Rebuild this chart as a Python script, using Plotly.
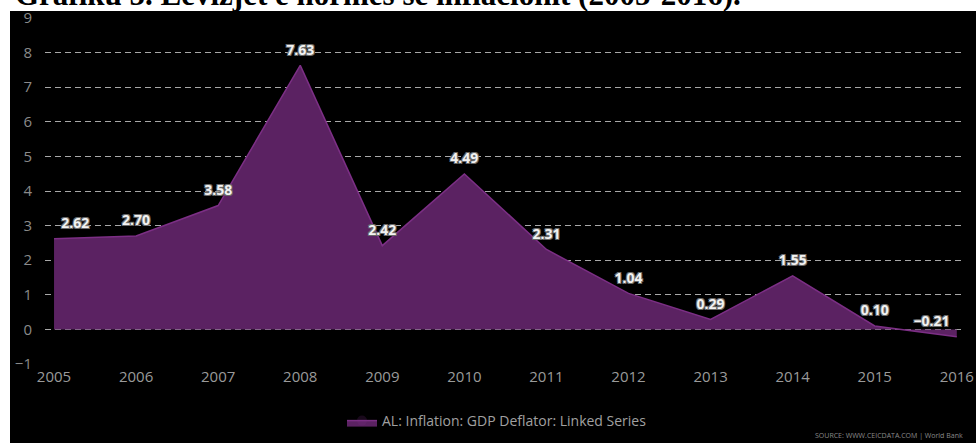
import plotly.graph_objects as go

years = [2005, 2006, 2007, 2008, 2009, 2010, 2011, 2012, 2013, 2014, 2015, 2016]
inflation = [2.62, 2.70, 3.58, 7.63, 2.42, 4.49, 2.31, 1.04, 0.29, 1.55, 0.10, -0.21]
labels = ["2.62", "2.70", "3.58", "7.63", "2.42", "4.49", "2.31", "1.04", "0.29", "1.55", "0.10", "\u22120.21"]
positions = ["top right", "top center", "top center", "top center", "top center", "top center",
             "top center", "top center", "top center", "top center", "top center", "top left"]
series_name = "AL: Inflation: GDP Deflator: Linked Series"
title_text = "Grafiku 5. Lëvizjet e normës së inflacionit (2005-2016)."
source_text = "SOURCE: WWW.CEICDATA.COM | World Bank"

W, H = 976, 443
L, R, T, B = 45, 11, 18, 79
pw, ph = W - L - R, H - T - B

def px_x(px):
    return (px - L) / pw

def px_y(py):
    return (H - B - py) / ph

outline = "#6a6a6a"
shadow = ("-1px -1px 0 %s, 1px -1px 0 %s, -1px 1px 0 %s, 1px 1px 0 %s" % (outline, outline, outline, outline))

fig = go.Figure()
fig.add_trace(go.Scatter(
    x=years, y=inflation, mode="lines+markers+text", fill="tozeroy",
    fillcolor="#5b2262", line=dict(color="#7c2f85", width=1.5),
    marker=dict(size=10, opacity=0),
    text=labels, textposition=positions,
    textfont=dict(family="Open Sans", size=14, color="#f2f2f2", shadow=shadow, weight="bold"),
    name=series_name, showlegend=True, cliponaxis=False, hoverinfo="skip",
))

fig.update_layout(
    width=W, height=H,
    margin=dict(l=L, r=R, t=T, b=B, autoexpand=False),
    paper_bgcolor="white", plot_bgcolor="black",
    font=dict(family="Open Sans", color="#999999"),
    shapes=[dict(type="rect", xref="paper", yref="paper",
                 x0=px_x(10), x1=px_x(W + 5), y0=px_y(H + 5), y1=px_y(11),
                 fillcolor="black", line=dict(width=0), layer="below")],
    xaxis=dict(range=[2004.89, 2016.1], tickmode="array", tickvals=years,
               ticktext=[str(y) for y in years], showgrid=False, zeroline=False,
               tickfont=dict(size=15, color="#9a9a9a"), ticks="", ticklabelstandoff=2,
               automargin=False),
    yaxis=dict(range=[-1, 9], dtick=1, showgrid=True, gridcolor="#a8a8a8",
               griddash="6px,4px", gridwidth=1, zeroline=False,
               tickfont=dict(size=15, color="#8a8a8a"), ticks="", ticklabelstandoff=12,
               automargin=False),
    legend=dict(orientation="h", x=px_x(497), xanchor="center", y=px_y(421), yanchor="middle",
                font=dict(size=14, color="#a0a0a0"), bgcolor="rgba(0,0,0,0)"),
    annotations=[
        dict(text="<b>" + title_text + "</b>", xref="paper", yref="paper",
             x=px_x(13), y=px_y(14), xanchor="left", yanchor="bottom", showarrow=False,
             font=dict(family="Liberation Serif", size=31, color="black")),
        dict(text=source_text, xref="paper", yref="paper",
             x=px_x(965), y=px_y(442), xanchor="right", yanchor="bottom", showarrow=False,
             font=dict(size=7, color="#8a8a8a")),
    ],
)

fig.write_html("out.html", config={"displayModeBar": False},
               post_script="document.body.style.margin='0';document.body.style.overflow='hidden';")
